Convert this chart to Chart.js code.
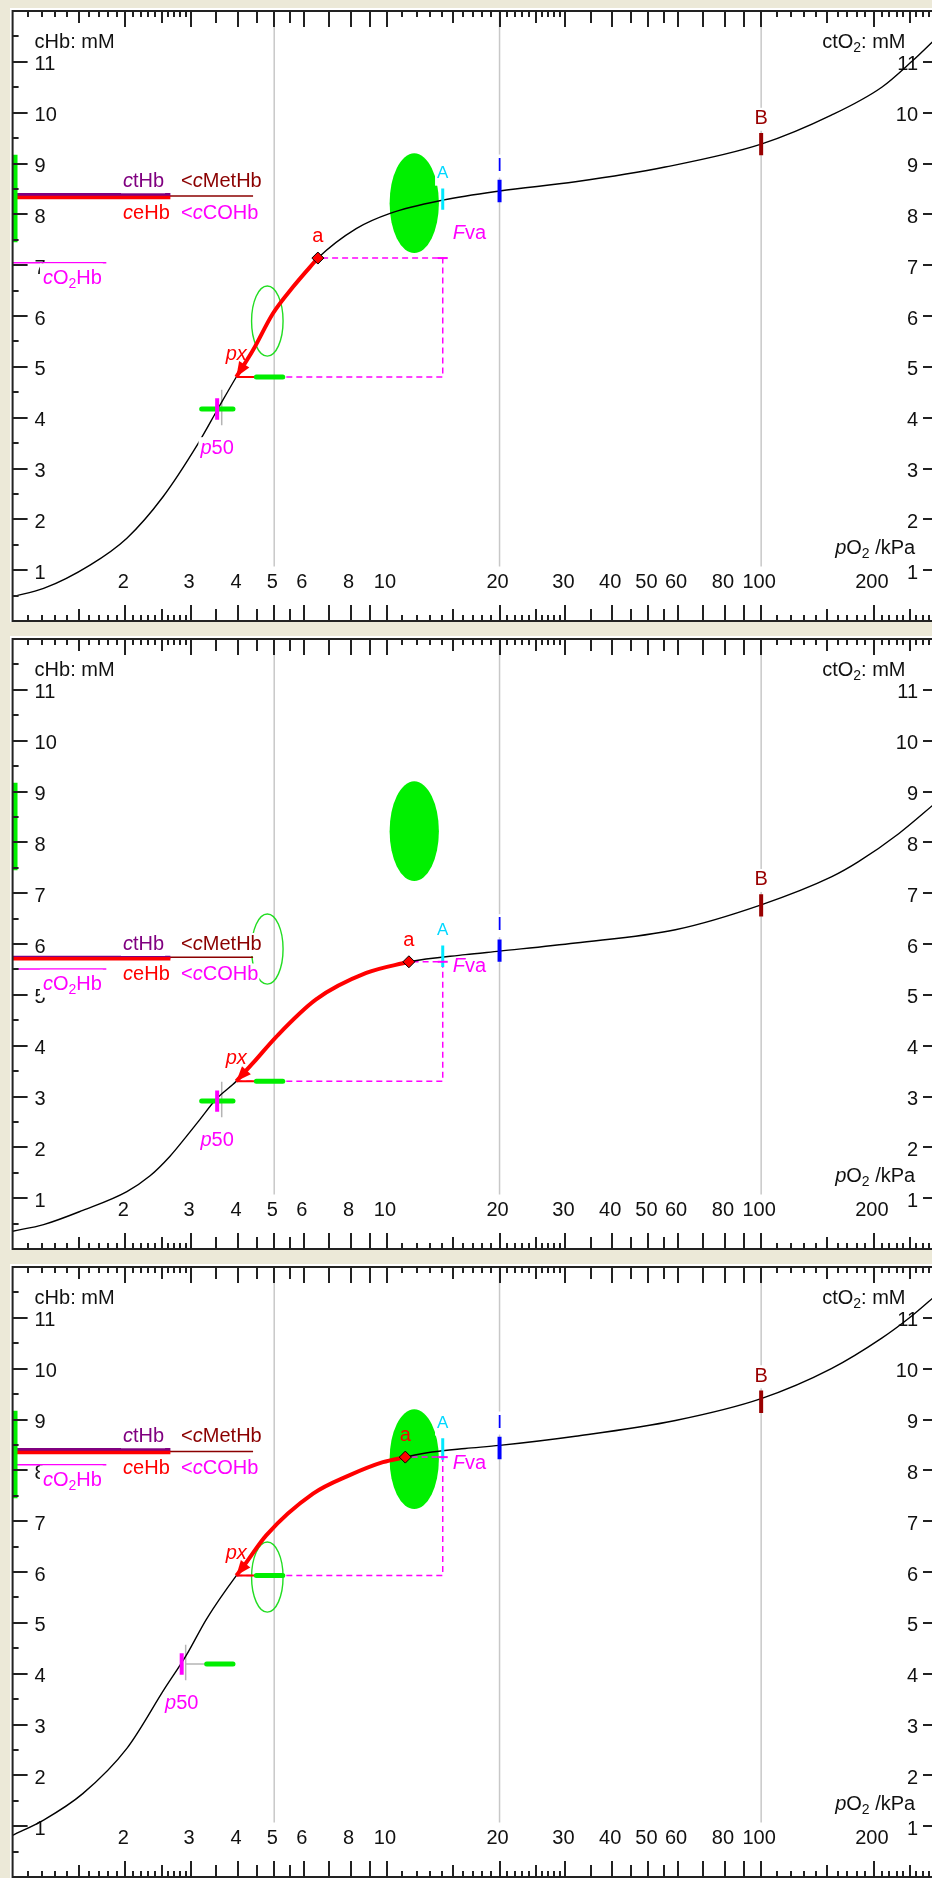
<!DOCTYPE html>
<html>
<head>
<meta charset="utf-8">
<script src="https://cdn.jsdelivr.net/npm/chart.js@4.4.1/dist/chart.umd.min.js"></script>
<style>
html, body { margin: 0; padding: 0; background: #ece9d8; }
#wrap { position: relative; width: 932px; height: 1878px; overflow: hidden; background: #ece9d8; }
#wrap canvas { position: absolute; left: 0; }
</style>
</head>
<body>
<div id="wrap">
  <canvas id="g1" width="944" height="628" style="top:0px"></canvas>
  <canvas id="g2" width="944" height="628" style="top:628px"></canvas>
  <canvas id="g3" width="944" height="628" style="top:1256px"></canvas>
</div>
<script>
// eixos: pO2 (kPa, log) e concentracao (mM)
const xLabels = [2, 3, 4, 5, 6, 8, 10, 20, 30, 40, 50, 60, 80, 100, 200];
const yLabels = [1, 2, 3, 4, 5, 6, 7, 8, 9, 10, 11];
const gridX = [5, 20, 100];

// curvas de dissociacao [pO2, ctO2]
const curve1 = [[1,0.48],[1.21,0.64],[1.61,1.10],[2.02,1.63],[2.52,2.44],[3.13,3.49],[3.54,4.18],[3.96,4.80],[4.39,5.33],[4.96,6.05],[5.61,6.57],[6.54,7.14],[8.28,7.72],[10.2,8.02],[14.1,8.28],[20,8.46],[31.9,8.64],[55.4,8.93],[100,9.38],[154,9.95],[210,10.5],[252,11.0],[295,11.48]];
const curve2 = [[1,0.35],[1.21,0.48],[1.54,0.76],[2.02,1.13],[2.33,1.44],[2.63,1.82],[2.91,2.21],[3.16,2.54],[3.5,2.95],[3.96,3.30],[4.39,3.66],[5.07,4.18],[6.47,4.91],[8.81,5.43],[11.45,5.65],[16.2,5.79],[20,5.86],[31.9,6.02],[59,6.28],[100,6.77],[154,7.32],[182,7.62],[233,8.17],[295,8.80]];
const curve3 = [[1,0.82],[1.21,1.12],[1.54,1.64],[2.02,2.53],[2.55,3.71],[2.91,4.36],[3.30,5.08],[3.96,5.93],[4.13,6.10],[4.76,6.72],[6.35,7.54],[7.93,7.90],[9.76,8.16],[11.2,8.26],[13.2,8.36],[16.2,8.43],[20,8.49],[31.9,8.67],[59,8.98],[100,9.41],[154,10.0],[210,10.6],[252,11.03],[295,11.46]];

// trecho vermelho px -> a
const path1 = [[3.96,4.80],[4.39,5.33],[4.96,6.05],[5.61,6.57],[6.54,7.14]];
const path2 = [[3.96,3.30],[4.39,3.66],[5.07,4.18],[6.47,4.91],[8.81,5.43],[11.45,5.65]];
const path3 = [[3.96,5.93],[4.13,6.10],[4.76,6.72],[6.35,7.54],[7.93,7.90],[9.76,8.16],[11.2,8.26]];

// pontos por painel
const aPts = [[6.54,7.14],[11.45,5.65],[11.2,8.26]];
const pxPts = [[3.96,4.80],[3.96,3.30],[3.96,5.93]];
const p50Pts = [[3.52,4.17],[3.52,2.91],[2.83,4.19]];
const p50Bar = [[3.2,3.88],[3.2,3.88],[3.3,3.88]];
const p50Gray = [3.62, 3.62, 2.9];

// marcas A, I, B
const markX = [14.1, 20, 100];
const markA = [8.30, 5.76, 8.42];
const markI = [8.46, 5.87, 8.44];
const markB = [9.38, 6.76, 9.35];

// linhas de hemoglobina a esquerda
const ctHbY = [8.39, 5.74, 8.41];
const ceHbY = [8.33, 5.71, 8.35];
const metHbY = [8.36, 5.74, 8.37];
const o2HbY = [7.05, 5.51, 8.11];
const hbEnd = [2.64, 4.39, 1.78];   // fim das linhas ctHb/ceHb, cMetHb, cO2Hb
const fvaY = [7.62, 5.55, 8.13];

// elipses verdes [xMin, xMax, yMeio, yMeiaAltura]
const greenBlob = [10.17, 13.77, 8.22, 0.98];
const greenRing = [4.35, 5.28, 5.9, 0.69];
const greenBar = [7.45, 9.17];
const pxBar = [4.48, 5.27];

const curves = [curve1, curve2, curve3];
const paths = [path1, path2, path3];

const FONT = '"Liberation Sans", Arial, sans-serif';

function pts(list) { return list.map(p => ({ x: p[0], y: p[1] })); }

function line(list, color, width, order, extra) {
    return Object.assign({
        data: pts(list), borderColor: color, borderWidth: width, pointRadius: 0,
        fill: false, order: order, tension: 0
    }, extra || {});
}

function segFont(st, size) {
    let sz = st.includes('s') ? Math.round(size * 0.7) : size;
    return (st.includes('i') ? 'italic ' : '') + sz + 'px ' + FONT;
}

// texto com partes em italico / subscrito; bg = [cima, baixo, esquerda] da caixa branca
function drawRich(ctx, segs, x, y, align, color, size, bg) {
    let w = 0;
    for (const s of segs) { ctx.font = segFont(s[1], size); w += ctx.measureText(s[0]).width; }
    let x0 = align === 'right' ? x - w : align === 'center' ? x - w / 2 : x;
    if (bg) {
        ctx.fillStyle = '#ffffff';
        ctx.fillRect(x0 - bg[2], y - bg[0], w + bg[2] + 1, bg[0] + bg[1]);
    }
    ctx.fillStyle = color;
    ctx.textBaseline = 'middle';
    ctx.textAlign = 'left';
    for (const s of segs) {
        ctx.font = segFont(s[1], size);
        ctx.fillText(s[0], x0, y + (s[1].includes('s') ? size * 0.28 : 0));
        x0 += ctx.measureText(s[0]).width;
    }
}

function xTicks() {
    let out = [];
    for (const d of [1, 10, 100]) {
        for (let k = 11; k < 30; k++) out.push([d * k / 10, k % 10 === 0 ? 16 : (k % 5 === 0 ? 12 : 6)]);
        for (const m of [3, 3.5, 4, 4.5, 5, 5.5, 6, 7, 8, 9, 10]) out.push([d * m, m % 1 ? 12 : 16]);
    }
    return out.filter(t => t[0] <= 295);
}

function drawEllipse(ctx, x, y, e, filled) {
    let l = x.getPixelForValue(e[0]), r = x.getPixelForValue(e[1]);
    let t = y.getPixelForValue(e[2] + e[3]), b = y.getPixelForValue(e[2] - e[3]);
    ctx.beginPath();
    ctx.ellipse((l + r) / 2, (t + b) / 2, (r - l) / 2, (b - t) / 2, 0, 0, Math.PI * 2);
    if (filled) { ctx.fillStyle = '#00f000'; ctx.fill(); }
    else { ctx.strokeStyle = '#22dd22'; ctx.lineWidth = 1.4; ctx.stroke(); }
}

const BOX = [11, 12, 2];
const BOX_O2 = [15, 13, 3];

const decor = {
    id: 'decor',
    beforeDraw(chart) {
        const c = chart.ctx, a = chart.chartArea;
        c.save();
        c.fillStyle = '#ece9d8';
        c.fillRect(0, 0, chart.width, chart.height);
        c.fillStyle = '#ffffff';
        c.fillRect(10, 8, chart.width - 10, a.bottom + 1 - 8);
        c.restore();
    },
    beforeDatasetsDraw(chart, args, o) {
        const c = chart.ctx, a = chart.chartArea, x = chart.scales.x, y = chart.scales.y;
        c.save();
        // linhas de grade
        c.strokeStyle = '#c8c8c8';
        c.lineWidth = 1.5;
        gridX.forEach(v => {
            let px = x.getPixelForValue(v);
            c.beginPath(); c.moveTo(px, a.top); c.lineTo(px, y.getPixelForValue(1.07)); c.stroke();
        });
        drawEllipse(c, x, y, greenBlob, true);
        drawEllipse(c, x, y, greenRing, false);
        // rotulos dos eixos
        yLabels.forEach(v => {
            let py = y.getPixelForValue(v) + 3;
            drawRich(c, [[String(v), '']], a.left + 22, py, 'left', '#111', 20, null);
            drawRich(c, [[String(v), '']], a.right - 19, py, 'right', '#111', 20, null);
        });
        xLabels.forEach(v => {
            drawRich(c, [[String(v), '']], x.getPixelForValue(v) - 2, y.getPixelForValue(0.75), 'center', '#111', 20, null);
        });
        drawRich(c, [['cHb: mM', '']], a.left + 22, y.getPixelForValue(11.38), 'left', '#111', 20, null);
        drawRich(c, [['ctO', ''], ['2', 's'], [': mM', '']], x.getPixelForValue(243), y.getPixelForValue(11.38), 'right', '#111', 20, null);
        drawRich(c, [['p', 'i'], ['O', ''], ['2', 's'], [' /kPa', '']], x.getPixelForValue(258), y.getPixelForValue(1.43), 'right', '#111', 20, null);
        c.restore();
    },
    afterDatasetsDraw(chart, args, o) {
        const c = chart.ctx, a = chart.chartArea, x = chart.scales.x, y = chart.scales.y;
        const i = o.panel;
        c.save();
        // eixos e marcas
        c.strokeStyle = '#222';
        c.lineWidth = 2;
        c.beginPath();
        c.moveTo(a.right + 5, a.top); c.lineTo(a.left, a.top); c.lineTo(a.left, a.bottom); c.lineTo(a.right + 5, a.bottom);
        c.stroke();
        c.beginPath();
        xTicks().forEach(t => {
            let px = Math.round(x.getPixelForValue(t[0]));
            c.moveTo(px, a.bottom); c.lineTo(px, a.bottom - t[1]);
            c.moveTo(px, a.top); c.lineTo(px, a.top + t[1]);
        });
        for (let v = 0.5; v < 12; v += 0.5) {
            let py = Math.round(y.getPixelForValue(v));
            c.moveTo(a.left, py); c.lineTo(a.left + (v % 1 ? 6 : 15), py);
            if (v % 1 === 0) { c.moveTo(a.right, py); c.lineTo(a.right - 14, py); }
        }
        c.stroke();

        // ponta da seta em px
        const path = paths[i];
        let tx = x.getPixelForValue(path[0][0]), ty = y.getPixelForValue(path[0][1]);
        let nx = x.getPixelForValue(path[1][0]), ny = y.getPixelForValue(path[1][1]);
        let dx = tx - nx, dy = ty - ny, d = Math.hypot(dx, dy);
        dx /= d; dy /= d;
        c.fillStyle = '#ff0000';
        c.beginPath();
        c.moveTo(tx, ty);
        c.lineTo(tx - dx * 15 - dy * 6, ty - dy * 15 + dx * 6);
        c.lineTo(tx - dx * 15 + dy * 6, ty - dy * 15 - dx * 6);
        c.closePath();
        c.fill();

        // canto do retangulo tracejado
        let fx = x.getPixelForValue(markX[0]), fy = y.getPixelForValue(aPts[i][1]);
        c.strokeStyle = '#ff00ff';
        c.lineWidth = 2;
        c.beginPath(); c.moveTo(fx - 5, fy); c.lineTo(fx + 5, fy); c.stroke();

        // textos
        const X = v => x.getPixelForValue(v), Y = v => y.getPixelForValue(v);
        drawRich(c, [['c', 'i'], ['tHb', '']], X(2.54), Y(ctHbY[i] + 0.26), 'right', '#800080', 20, BOX);
        drawRich(c, [['<', ''], ['c', 'i'], ['MetHb', '']], X(2.82), Y(ctHbY[i] + 0.26), 'left', '#8b0000', 20, BOX);
        drawRich(c, [['c', 'i'], ['eHb', '']], X(2.63), Y(ceHbY[i] - 0.31), 'right', '#ff0000', 20, BOX);
        drawRich(c, [['<', ''], ['c', 'i'], ['COHb', '']], X(2.82), Y(ceHbY[i] - 0.31), 'left', '#ff00ff', 20, BOX);
        drawRich(c, [['c', 'i'], ['O', ''], ['2', 's'], ['Hb', '']], X(1.205), Y(o2HbY[i] - 0.31), 'left', '#ff00ff', 20, BOX_O2);
        drawRich(c, [['a', '']], X(aPts[i][0]), Y(aPts[i][1] + 0.42), 'center', '#ff0000', 20, null);
        drawRich(c, [['p', 'i'], ['x', 'i']], X(pxPts[i][0]), Y(pxPts[i][1] + 0.44), 'center', '#ff0000', 20, null);
        drawRich(c, [['p', 'i'], ['50', '']], X(p50Pts[i][0]), Y(p50Pts[i][1] - 0.77), 'center', '#ff00ff', 20, BOX);
        drawRich(c, [['F', 'i'], ['va', '']], X(15.0), Y(fvaY[i]), 'left', '#ff00ff', 20, null);
        drawRich(c, [['A', '']], X(markX[0]), Y(markA[i] + 0.5), 'center', '#00d8ff', 17, BOX);
        drawRich(c, [['I', '']], X(markX[1]), Y(markI[i] + 0.5), 'center', '#0000ff', 19, BOX);
        drawRich(c, [['B', '']], X(markX[2]), Y(markB[i] + 0.5), 'center', '#990000', 20, BOX);
        c.restore();
    }
};

function makePanel(id, i) {
    const a = aPts[i], px = pxPts[i], p = p50Pts[i];
    const datasets = [
        line([a], '#000', 1, 0, { pointRadius: 6, pointStyle: 'rectRot', pointBackgroundColor: '#ff0000', pointBorderColor: '#000', pointBorderWidth: 1 }),
        line([[markX[0], markA[i] - 0.21], [markX[0], markA[i] + 0.21]], '#00e8ff', 3, 1),
        line([[markX[1], markI[i] - 0.22], [markX[1], markI[i] + 0.22]], '#0000ff', 4, 1),
        line([[markX[2], markB[i] - 0.22], [markX[2], markB[i] + 0.22]], '#990000', 4, 1),
        line([[p[0], p[1] - 0.21], [p[0], p[1] + 0.21]], '#ff00ff', 4, 1),
        line([[pxBar[0], px[1]], [pxBar[1], px[1]]], '#00ee00', 5, 2, { borderCapStyle: 'round' }),
        line([[p50Bar[i][0], p[1]], [p50Bar[i][1], p[1]]], '#00ee00', 5, 2, { borderCapStyle: 'round' }),
        line([[1.015, greenBar[0]], [1.015, greenBar[1]]], '#00f000', 5, 2),
        line(paths[i], '#ff0000', 4, 3, { cubicInterpolationMode: 'monotone' }),
        line([px, [4.66, px[1]]], '#ff0000', 2, 4),
        line(curves[i], '#000000', 1.4, 5, { cubicInterpolationMode: 'monotone' }),
        line([[1, ceHbY[i]], [hbEnd[0], ceHbY[i]]], '#ff0000', 3.5, 6),
        line([[1, ctHbY[i]], [hbEnd[0], ctHbY[i]]], '#800080', 3, 7),
        line([[1, metHbY[i]], [hbEnd[1], metHbY[i]]], '#8b0000', 1.5, 8),
        line([[1, o2HbY[i]], [hbEnd[2], o2HbY[i]]], '#ff00ff', 1.5, 8),
        line([[p50Gray[i], p[1] - 0.32], [p50Gray[i], p[1] + 0.38]], '#b4b4b4', 1.5, 9),
        line([px, [markX[0], px[1]], [markX[0], a[1]], a], '#ff00ff', 1.5, 10, { borderDash: [6, 4] })
    ];
    if (i === 2) datasets.push(line([[p50Gray[i], p[1]], [3.58, p[1]]], '#b4b4b4', 1.5, 9));

    new Chart(document.getElementById(id), {
        type: 'line',
        data: { datasets: datasets },
        options: {
            responsive: false,
            animation: false,
            events: [],
            layout: { padding: { left: 12.6, right: 6, top: 11, bottom: 7 } },
            scales: {
                x: { type: 'logarithmic', min: 1, max: 295, display: false },
                y: { type: 'linear', min: 0, max: 12, display: false }
            },
            plugins: {
                legend: { display: false },
                tooltip: { enabled: false },
                decor: { panel: i }
            }
        },
        plugins: [decor]
    });
}

makePanel('g1', 0);
makePanel('g2', 1);
makePanel('g3', 2);
</script>
</body>
</html>
